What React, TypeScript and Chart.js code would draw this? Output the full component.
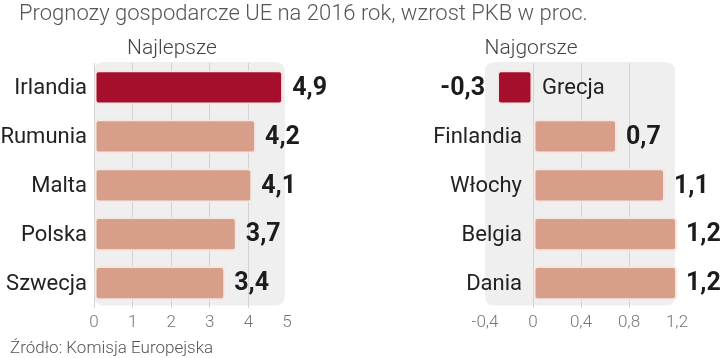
import React, { useEffect, useRef } from "react";
import { Chart, registerables } from "chart.js";

Chart.register(...registerables);

const titleText = "Prognozy gospodarcze UE na 2016 rok, wzrost PKB w proc.";
const sourceText = "Źródło: Komisja Europejska";

const bestTitle = "Najlepsze";
const bestCategories = ["Irlandia", "Rumunia", "Malta", "Polska", "Szwecja"];
const bestValues = [4.9, 4.2, 4.1, 3.7, 3.4];
const bestTicks = { min: 0, max: 5, step: 1 };

const worstTitle = "Najgorsze";
const worstCategories = ["Grecja", "Finlandia", "Włochy", "Belgia", "Dania"];
const worstValues = [-0.3, 0.7, 1.1, 1.2, 1.2];
const worstTicks = { min: -0.4, max: 1.2, step: 0.4 };

const HIGHLIGHT = "#a50f2c";
const NORMAL = "#d79f89";

const fmt = (v: number) => {
  const r = Math.round(v * 10) / 10;
  if (r === 0) return "0";
  return String(r).replace(".", ",");
};

const roundRect = (ctx: CanvasRenderingContext2D, x: number, y: number, w: number, h: number, r: number) => {
  ctx.beginPath();
  ctx.moveTo(x + r, y);
  ctx.lineTo(x + w - r, y);
  ctx.quadraticCurveTo(x + w, y, x + w, y + r);
  ctx.lineTo(x + w, y + h - r);
  ctx.quadraticCurveTo(x + w, y + h, x + w - r, y + h);
  ctx.lineTo(x + r, y + h);
  ctx.quadraticCurveTo(x, y + h, x, y + h - r);
  ctx.lineTo(x, y + r);
  ctx.quadraticCurveTo(x, y, x + r, y);
  ctx.closePath();
};

const bgPlugin = {
  id: "panelBg",
  beforeDraw(chart: any) {
    const { ctx, chartArea } = chart;
    ctx.save();
    ctx.fillStyle = "#efefef";
    roundRect(ctx, chartArea.left, chartArea.top - 1, chartArea.right - chartArea.left - 2, chartArea.bottom - chartArea.top - 1, 10);
    ctx.fill();
    ctx.restore();
  },
};

const makeLabelPlugin = (catGap: number) => ({
  id: "barLabels",
  afterDatasetsDraw(chart: any) {
    const { ctx } = chart;
    const meta = chart.getDatasetMeta(0);
    const xs = chart.scales.x;
    const x0 = xs.getPixelForValue(0);
    const data = chart.data.datasets[0].data as number[];
    const labels = chart.data.labels as string[];
    ctx.save();
    ctx.textBaseline = "middle";
    meta.data.forEach((bar: any, i: number) => {
      const v = data[i];
      const y = bar.y + 1;
      ctx.fillStyle = "#1c1c1c";
      ctx.font = "bold 25px Roboto";
      if (v >= 0) {
        ctx.textAlign = "left";
        ctx.fillText(fmt(v), bar.x + 9, y);
      } else {
        ctx.textAlign = "right";
        ctx.fillText(fmt(v), bar.x - 12, y);
      }
      ctx.fillStyle = "#222";
      ctx.font = "22px Roboto";
      if (v >= 0) {
        ctx.textAlign = "right";
        ctx.fillText(labels[i], x0 - catGap, y);
      } else {
        ctx.textAlign = "left";
        ctx.fillText(labels[i], x0 + 9, y);
      }
    });
    ctx.restore();
  },
});

function BarPanel(props: {
  categories: string[];
  values: number[];
  ticks: { min: number; max: number; step: number };
  padLeft: number;
  padRight: number;
  catGap: number;
  hideFirstGrid: boolean;
}) {
  const ref = useRef<HTMLCanvasElement | null>(null);
  useEffect(() => {
    if (!ref.current) return;
    const { categories, values, ticks, padLeft, padRight, catGap, hideFirstGrid } = props;
    const chart = new Chart(ref.current, {
      type: "bar",
      data: {
        labels: categories,
        datasets: [
          {
            data: values,
            backgroundColor: values.map((_, i) => (i === 0 ? HIGHLIGHT : NORMAL)),
            borderColor: "#f4e7e2",
            borderWidth: 2,
            borderRadius: 4,
            borderSkipped: false,
            categoryPercentage: 1,
            barPercentage: 0.7,
          },
        ],
      },
      options: {
        indexAxis: "y",
        animation: false,
        responsive: false,
        maintainAspectRatio: false,
        layout: { padding: { left: padLeft, right: padRight, top: 63, bottom: 20 } },
        plugins: { legend: { display: false }, tooltip: { enabled: false }, title: { display: false } },
        scales: {
          y: { display: false },
          x: {
            min: ticks.min,
            max: ticks.max,
            border: { display: false },
            grid: {
              drawTicks: false,
              lineWidth: 1,
              color: (c: any) => {
                const n = c.chart.scales.x.ticks.length;
                if (c.index === n - 1) return "rgba(0,0,0,0)";
                if (hideFirstGrid && c.index === 0) return "rgba(0,0,0,0)";
                return "#d3d3d3";
              },
            },
            ticks: {
              stepSize: ticks.step,
              padding: 5,
              color: "#777",
              font: { family: "Roboto", size: 17, weight: "300" },
              callback: (v: any) => fmt(Number(v)),
            },
          },
        },
      },
      plugins: [bgPlugin, makeLabelPlugin(catGap)],
    } as any);
    return () => chart.destroy();
  }, []);
  return <canvas ref={ref} width={360} height={358} style={{ width: 360, height: 358, display: "block" }} />;
}

export default function App() {
  const light = { fontFamily: "Roboto", fontWeight: 300, lineHeight: 1, position: "absolute" as const, whiteSpace: "nowrap" as const };
  return (
    <div style={{ position: "fixed", left: 0, top: 0, width: 720, height: 358, background: "#fff", overflow: "hidden" }}>
      <div style={{ position: "absolute", left: 0, top: 0 }}>
        <BarPanel categories={bestCategories} values={bestValues} ticks={bestTicks} padLeft={94} padRight={73} catGap={7} hideFirstGrid={false} />
      </div>
      <div style={{ position: "absolute", left: 360, top: 0 }}>
        <BarPanel categories={worstCategories} values={worstValues} ticks={worstTicks} padLeft={125} padRight={43} catGap={11} hideFirstGrid={true} />
      </div>
      <div style={{ ...light, left: 19, top: 2, fontSize: 22, color: "#555" }}>{titleText}</div>
      <div style={{ ...light, left: 172, top: 37, fontSize: 21, color: "#444", transform: "translateX(-50%)" }}>{bestTitle}</div>
      <div style={{ ...light, left: 531, top: 37, fontSize: 21, color: "#444", transform: "translateX(-50%)" }}>{worstTitle}</div>
      <div style={{ ...light, left: 10, top: 339, fontSize: 17, color: "#555" }}>{sourceText}</div>
    </div>
  );
}
